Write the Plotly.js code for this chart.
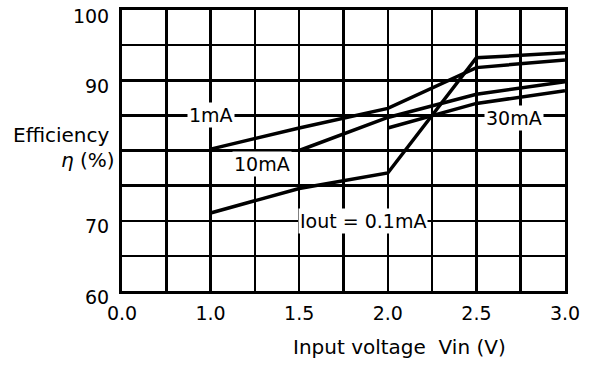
<!DOCTYPE html>
<html>
<head>
<meta charset="utf-8">
<script src="https://cdn.plot.ly/plotly-3.0.1.min.js"></script>
<style>html,body{margin:0;padding:0;background:#fff;}#chart{width:590px;height:365px;}</style>
</head>
<body>
<div id="chart"></div>
<script>
// Input voltage Vin (V) — axis is broken: left edge labelled 0.0, then 1.0 … 3.0
const xTickVals = [0.5, 0.75, 1.0, 1.25, 1.5, 1.75, 2.0, 2.25, 2.5, 2.75, 3.0];
const xTickText = ['0.0', '', '1.0', '', '1.5', '', '2.0', '', '2.5', '', '3.0'];
const yTickVals = [60, 65, 70, 75, 80, 85, 90, 95, 100];
const yTickText = ['60', '', '70', '', '', '', '90', '', '100'];

// Efficiency η (%) for each output current
const vin_01mA = [1.0, 1.5, 2.0, 2.5, 3.0];
const eff_01mA = [71.1, 74.6, 76.8, 93.2, 93.9];
const vin_1mA = [1.0, 1.5, 2.0, 2.5, 3.0];
const eff_1mA = [80.2, 83.2, 86.0, 91.8, 92.9];
const vin_10mA = [1.5, 2.0, 2.5, 3.0];
const eff_10mA = [80.0, 84.7, 88.0, 89.8];
const vin_30mA = [2.0, 2.5, 3.0];
const eff_30mA = [83.2, 86.7, 88.5];

const seriesLabels = ['Iout = 0.1mA', '1mA', '10mA', '30mA'];
const labelX = [1.86, 1.0, 1.29, 2.71];
const labelY = [70.0, 85.0, 78.1, 84.6];

const FONT = '"DejaVu Sans", sans-serif';
const lineStyle = {color: '#000', width: 3.5};

const traces = [
  {x: vin_01mA, y: eff_01mA, name: seriesLabels[0]},
  {x: vin_1mA, y: eff_1mA, name: seriesLabels[1]},
  {x: vin_10mA, y: eff_10mA, name: seriesLabels[2]},
  {x: vin_30mA, y: eff_30mA, name: seriesLabels[3]}
].map(t => Object.assign(t, {type: 'scatter', mode: 'lines', line: lineStyle, hoverinfo: 'skip'}));

const curveAnnotations = seriesLabels.map((s, i) => ({
  x: labelX[i], y: labelY[i], xref: 'x', yref: 'y', text: s, showarrow: false,
  font: {family: FONT, size: 19, color: '#000'}, bgcolor: '#fff', borderpad: 1
}));

const titleAnnotations = [
  {x: 0.627, y: -0.199, xref: 'paper', yref: 'paper', text: 'Input voltage  Vin (V)', showarrow: false,
   xanchor: 'center', yanchor: 'middle', font: {family: FONT, size: 20, color: '#000'}},
  {x: -0.137, y: 0.555, xref: 'paper', yref: 'paper', text: 'Efficiency', showarrow: false,
   xanchor: 'center', yanchor: 'middle', font: {family: FONT, size: 20, color: '#000'}},
  {x: -0.077, y: 0.466, xref: 'paper', yref: 'paper', text: '<i>η</i> (%)', showarrow: false,
   xanchor: 'center', yanchor: 'middle', font: {family: FONT, size: 20, color: '#000'}}
];

const axisCommon = {
  showgrid: true, gridcolor: '#000', gridwidth: 2.5,
  showline: true, linecolor: '#000', linewidth: 3, mirror: true,
  zeroline: false, ticks: '', tickmode: 'array',
  tickfont: {family: FONT, size: 19, color: '#000'}, fixedrange: true
};

const layout = {
  width: 590, height: 365,
  margin: {l: 122, r: 25, t: 10, b: 74},
  paper_bgcolor: '#fff', plot_bgcolor: '#fff',
  showlegend: false,
  font: {family: FONT, color: '#000'},
  xaxis: Object.assign({}, axisCommon, {range: [0.5, 3.0], tickvals: xTickVals, ticktext: xTickText, ticklabelstandoff: 3}),
  yaxis: Object.assign({}, axisCommon, {range: [60, 100], tickvals: yTickVals, ticktext: yTickText, ticklabelstandoff: 6, ticklabelshift: 6}),
  annotations: curveAnnotations.concat(titleAnnotations)
};

Plotly.newPlot('chart', traces, layout, {staticPlot: true, displayModeBar: false});
</script>
</body>
</html>
